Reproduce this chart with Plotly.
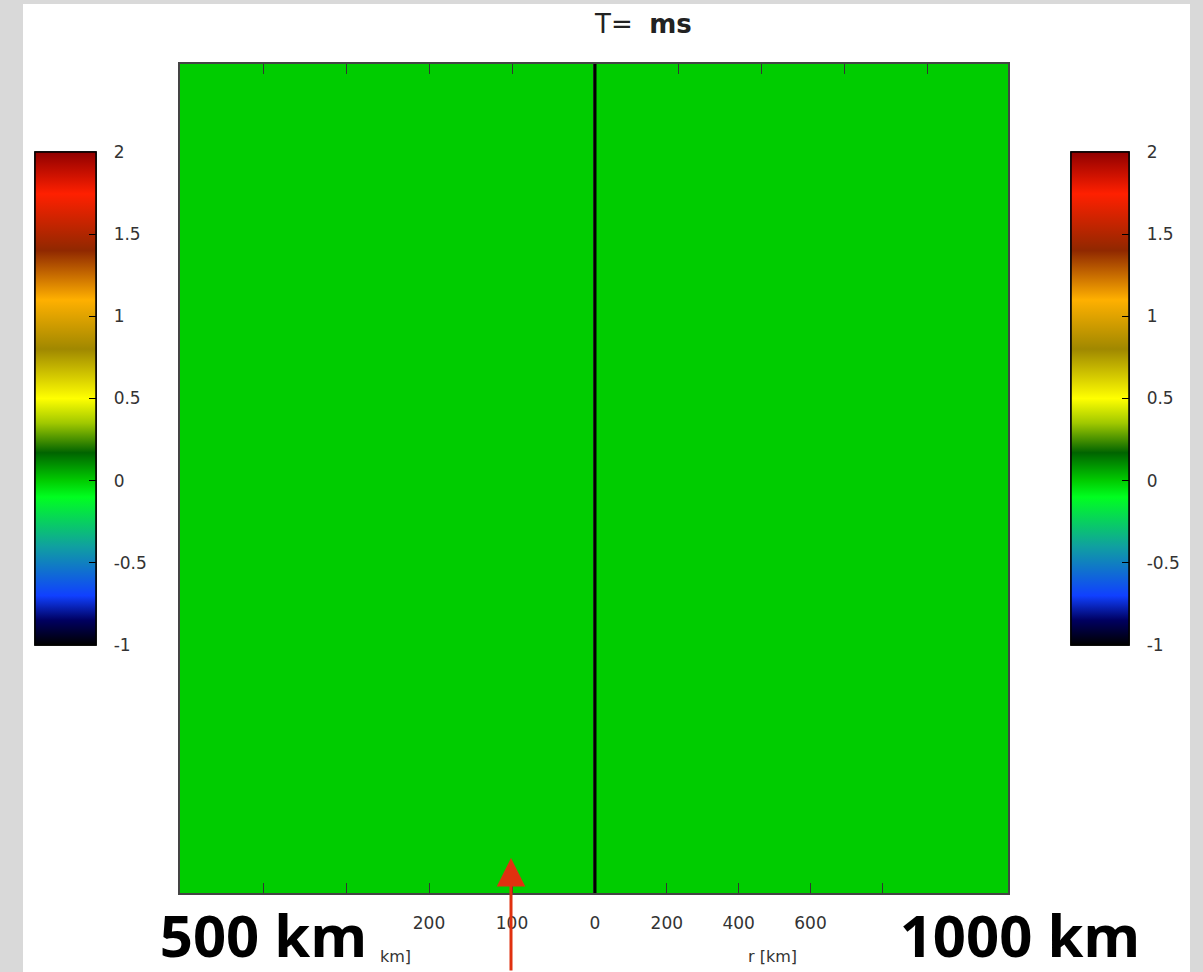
import plotly.graph_objects as go

W, H = 1203, 972

# ---- data ----
# field values (all ~0 at this time step), on the r-z grid of each panel
r_edges_left = [0, 100, 200, 300, 400, 500]
r_edges_right = [0, 230, 460, 690, 920, 1150]
z_edges = [0.0, 0.25, 0.5, 0.75, 1.0]
field_left = [[0.0, 0.0, 0.0, 0.0, 0.0],
              [0.0, 0.0, 0.0, 0.0, 0.0],
              [0.0, 0.0, 0.0, 0.0, 0.0],
              [0.0, 0.0, 0.0, 0.0, 0.0]]
field_right = [[0.0, 0.0, 0.0, 0.0, 0.0],
               [0.0, 0.0, 0.0, 0.0, 0.0],
               [0.0, 0.0, 0.0, 0.0, 0.0],
               [0.0, 0.0, 0.0, 0.0, 0.0]]
cbar_ticks = [-1, -0.5, 0, 0.5, 1, 1.5, 2]
cbar_ticktext = ["-1", "-0.5", "0", "0.5", "1", "1.5", "2"]
left_ticks = [0, 100, 200, 300, 400, 500]
left_ticktext = ["0", "100", "200", "", "", ""]      # 300-500 hidden under the label box
right_ticks = [0, 200, 400, 600, 800]
right_ticktext = ["", "200", "400", "600", ""]       # 0 shared with left; 800 hidden
top_right_ticks = [100, 200, 300, 400]
title_text = "T=  <b>ms</b>"
label_left = "500 km"
label_right = "1000 km"

colorscale = [
    [0.0, "#000000"],
    [0.05, "#000060"],
    [0.1, "#1040ff"],
    [0.2, "#10a0a0"],
    [0.3, "#00ff20"],
    [1 / 3, "#00cc00"],
    [0.39, "#006400"],
    [0.45, "#a0c800"],
    [0.5, "#ffff00"],
    [0.6, "#a08800"],
    [0.7, "#ffb000"],
    [0.8, "#902800"],
    [0.915, "#ff2000"],
    [1.0, "#900000"],
]


def px(x):
    return x / W


def py(y):
    return 1 - y / H


FONT = "DejaVu Sans"
TICKC = "#333333"

cb_base = dict(
    tickvals=cbar_ticks, ticktext=cbar_ticktext,
    tickfont=dict(family=FONT, size=17, color=TICKC),
    outlinecolor="#000000", outlinewidth=1.5,
    lenmode="pixels", len=493,
    yref="container", y=py(398.5), yanchor="middle", ypad=0,
    xref="container", xanchor="left", xpad=0,
)
# labelled colorbar (labels pushed away from the bar)
cb_labels = dict(ticks="outside", ticklen=14, tickcolor="rgba(0,0,0,0)", **cb_base)
# overlay colorbar that only draws the inner tick marks
cb_ticks = dict(ticks="inside", ticklen=7, tickcolor="#000000", tickwidth=1.2,
                showticklabels=False, **cb_base)

fig = go.Figure()
for cb in (cb_labels, cb_ticks):
    fig.add_trace(go.Heatmap(
        x=r_edges_left, y=z_edges, z=field_left, zmin=-1, zmax=2,
        colorscale=colorscale, xaxis="x", yaxis="y", hoverinfo="skip",
        colorbar=dict(x=px(35), thickness=61, **cb),
    ))
    fig.add_trace(go.Heatmap(
        x=r_edges_right, y=z_edges, z=field_right, zmin=-1, zmax=2,
        colorscale=colorscale, xaxis="x2", yaxis="y2", hoverinfo="skip",
        colorbar=dict(x=px(1071), thickness=58, **cb),
    ))
# empty trace so the top axis of the right panel is drawn
fig.add_trace(go.Scatter(x=[None], y=[None], xaxis="x3", yaxis="y2",
                         mode="markers", hoverinfo="skip", showlegend=False))

ydom = [py(893), py(64)]
yaxis_line = dict(showline=True, linecolor="#444444", linewidth=1.5, mirror=True,
                  showgrid=False, zeroline=False)

fig.update_layout(
    width=W, height=H,
    margin=dict(l=0, r=0, t=0, b=0, autoexpand=False),
    paper_bgcolor="#ffffff", plot_bgcolor="#ffffff",
    showlegend=False,
    xaxis=dict(domain=[px(180), px(595)], range=[500, 0],
               tickvals=left_ticks, ticktext=left_ticktext,
               ticks="inside", ticklen=10, tickcolor=TICKC, tickwidth=1.2,
               tickfont=dict(family=FONT, size=17, color=TICKC),
               ticklabelstandoff=14, anchor="y",
               showline=True, linecolor="#444444", linewidth=1.5, mirror="ticks",
               showgrid=False, zeroline=False),
    yaxis=dict(domain=ydom, range=[0, 1], showticklabels=False, ticks="",
               anchor="x", **yaxis_line),
    xaxis2=dict(domain=[px(595), px(1008)], range=[0, 1150],
                tickvals=right_ticks, ticktext=right_ticktext,
                ticks="inside", ticklen=10, tickcolor=TICKC, tickwidth=1.2,
                tickfont=dict(family=FONT, size=17, color=TICKC),
                ticklabelstandoff=14, anchor="y2",
                showline=True, linecolor="#444444", linewidth=1.5, mirror=True,
                showgrid=False, zeroline=False),
    xaxis3=dict(overlaying="x2", side="top", range=[0, 413 * 100 / 83],
                tickvals=top_right_ticks, ticks="inside", ticklen=10,
                tickcolor=TICKC, tickwidth=1.2, showticklabels=False,
                showline=False, showgrid=False, zeroline=False, anchor="y2"),
    yaxis2=dict(domain=ydom, range=[0, 1], showticklabels=False, ticks="",
                anchor="x2", **yaxis_line),
)

# gray outer frame strips
gray = "#d9d9d9"
for (x0, y0, x1, y1) in [(0, 0, 23, 972), (1190, 0, 1203, 972), (0, 0, 1203, 4)]:
    fig.add_shape(type="rect", xref="paper", yref="paper",
                  x0=px(x0), x1=px(x1), y0=py(y1), y1=py(y0),
                  fillcolor=gray, line=dict(width=0), layer="below")

# central black line
fig.add_shape(type="line", xref="paper", yref="paper",
              x0=px(595), x1=px(595), y0=py(893), y1=py(64),
              line=dict(color="#000000", width=3))

annotations = [
    dict(text=title_text, x=px(643), y=py(24), xanchor="center", yanchor="middle",
         font=dict(family=FONT, size=26, color="#222222")),
    dict(text="r [km]", x=px(386), y=py(956), xanchor="center", yanchor="middle",
         font=dict(family=FONT, size=16, color=TICKC)),
    dict(text="r [km]", x=px(772), y=py(956), xanchor="center", yanchor="middle",
         font=dict(family=FONT, size=16, color=TICKC)),
    dict(text="<b>" + label_left + "</b>", x=px(147), y=py(896), xanchor="left",
         yanchor="top", width=233, height=76, bgcolor="#ffffff", borderpad=0,
         borderwidth=0,
         font=dict(family="Open Sans", size=58, color="#000000")),
    dict(text="<b>" + label_right + "</b>", x=px(885), y=py(896), xanchor="left",
         yanchor="top", width=270, height=76, bgcolor="#ffffff", borderpad=0,
         borderwidth=0,
         font=dict(family="Open Sans", size=58, color="#000000")),
    dict(text="", x=px(511), y=py(858), ax=0, ay=114, showarrow=True,
         arrowhead=2, arrowsize=1.9, arrowwidth=3, arrowcolor="#e0300f",
         xref="paper", yref="paper"),
]
for a in annotations:
    a.setdefault("xref", "paper")
    a.setdefault("yref", "paper")
    a.setdefault("showarrow", False)
    fig.add_annotation(**a)

fig.write_html("out.html")
